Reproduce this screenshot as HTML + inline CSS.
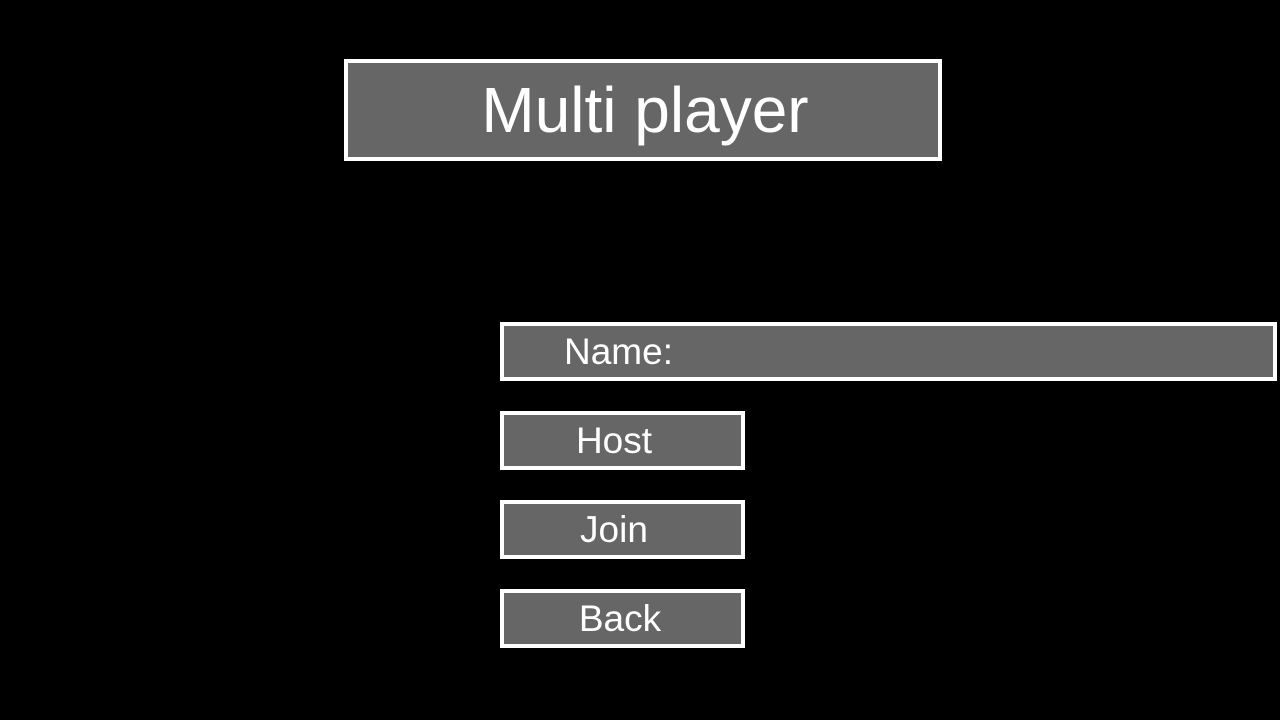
<!DOCTYPE html>
<html><head><style>
body{margin:0;width:1280px;height:720px;background:#000;position:relative;overflow:hidden;font-family:"Liberation Sans",sans-serif;color:#fff}
.b{position:absolute;box-sizing:border-box;border:4px solid #fff;background:#666}
.t{position:absolute;white-space:nowrap;line-height:1}
</style></head><body>
<div class="b" style="left:344px;top:59px;width:598px;height:102px"></div>
<div class="t" style="left:345px;width:600px;text-align:center;top:78px;font-size:64px">Multi player</div>
<div class="b" style="left:500px;top:322px;width:777px;height:59px"></div>
<div class="t" style="left:564px;top:333px;font-size:37px">Name:</div>
<div class="b" style="left:500px;top:411px;width:245px;height:59px"></div>
<div class="t" style="left:514px;width:200px;text-align:center;top:422px;font-size:37px">Host</div>
<div class="b" style="left:500px;top:500px;width:245px;height:59px"></div>
<div class="t" style="left:514px;width:200px;text-align:center;top:511px;font-size:37px">Join</div>
<div class="b" style="left:500px;top:589px;width:245px;height:59px"></div>
<div class="t" style="left:520px;width:200px;text-align:center;top:600px;font-size:37px">Back</div>
</body></html>
